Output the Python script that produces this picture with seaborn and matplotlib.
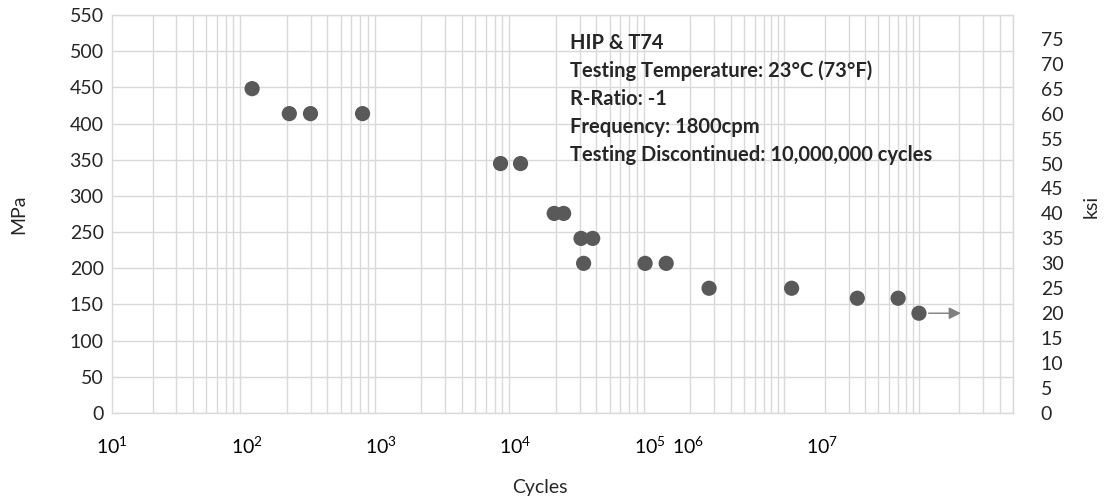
import numpy as np
import pandas as pd
import matplotlib
matplotlib.use('Agg')
import matplotlib.pyplot as plt
import seaborn as sns
from matplotlib.ticker import LogLocator, NullFormatter, MultipleLocator

# fatigue data (cycles, MPa)
cycles = [110, 208, 299, 729, 7740, 10900, 19400, 22800, 30700, 37500,
          32100, 92000, 132000, 275000, 1.13e6, 3.48e6, 7.0e6, 1.0e7]
stress_mpa = [448.2, 413.7, 413.7, 413.7, 344.7, 344.7, 275.8, 275.8, 241.3, 241.3,
              206.8, 206.8, 206.8, 172.4, 172.4, 158.6, 158.6, 137.9]

# runout (test discontinued) arrow
runout_start = [1.18e7]
runout_end = [2.05e7]
runout_stress = [137.9]

# x tick labels as placed on the original chart
xtick_pos = [1e1, 1e2, 1e3, 1e4, 1e5, 1.93e5, 1.89e6]
xtick_labels = [r'$\mathregular{10^{1}}$', r'$\mathregular{10^{2}}$', r'$\mathregular{10^{3}}$',
                r'$\mathregular{10^{4}}$', r'$\mathregular{10^{5}}$', r'$\mathregular{10^{6}}$',
                r'$\mathregular{10^{7}}$']

notes = ['HIP & T74',
         'Testing Temperature: 23°C (73°F)',
         'R-Ratio: -1',
         'Frequency: 1800cpm',
         'Testing Discontinued: 10,000,000 cycles']

MPA_PER_KSI = 6.894757

sns.set_theme(style='white')
plt.rcParams['font.family'] = ['Lato', 'DejaVu Sans']
plt.rcParams['mathtext.fontset'] = 'custom'
plt.rcParams['mathtext.rm'] = 'Lato'

df = pd.DataFrame({'cycles': cycles, 'MPa': stress_mpa})

fig = plt.figure(figsize=(11.05, 4.96), dpi=100)
ax = fig.add_axes([0.1014, 0.1673, 0.8153, 0.8025])

grid_color = '#d9d9d9'
fs = 14

sns.scatterplot(data=df, x='cycles', y='MPa', ax=ax, color='#595959', s=120,
                edgecolor='none', zorder=3)

ax.set_xscale('log')
ax.set_xlim(1e1, 5e7)
ax.set_ylim(0, 550)
ax.yaxis.set_major_locator(MultipleLocator(50))

# grid: every 1..9 per decade
ax.xaxis.set_minor_locator(LogLocator(base=10, subs=np.arange(1, 10), numticks=100))
ax.xaxis.set_minor_formatter(NullFormatter())
ax.set_xticks(xtick_pos)
ax.set_xticklabels(xtick_labels)
ax.grid(False)
ax.grid(which='minor', axis='x', color=grid_color, lw=1)
ax.grid(which='major', axis='y', color=grid_color, lw=1)
ax.set_axisbelow(True)
ax.tick_params(axis='x', which='both', length=0, pad=16, labelsize=fs, colors='#000000')
ax.tick_params(axis='y', length=0, pad=6, labelsize=fs)
for sp in ax.spines.values():
    sp.set_color(grid_color)
    sp.set_linewidth(1)

ax.set_xlabel('Cycles', fontsize=fs)
ax.xaxis.set_label_coords(0.475, -0.165)
ax.set_ylabel('MPa', fontsize=fs)
ax.yaxis.set_label_coords(-0.094, 0.5)

# runout arrow
for x0, x1, y in zip(runout_start, runout_end, runout_stress):
    ax.annotate('', xy=(x1, y), xytext=(x0, y),
                arrowprops=dict(arrowstyle='-|>', color='#7f7f7f', lw=1,
                                mutation_scale=18, shrinkA=0, shrinkB=0))

# secondary ksi axis
ax2 = ax.twinx()
ax2.set_ylim(0, 550 / MPA_PER_KSI)
ax2.yaxis.set_major_locator(MultipleLocator(5))
ax2.set_ylim(0, 550 / MPA_PER_KSI)
ax2.tick_params(axis='y', length=0, pad=20, labelsize=fs)
ax2.grid(False)
for sp in ax2.spines.values():
    sp.set_visible(False)
ax2.set_ylabel('ksi', fontsize=fs)
ax2.yaxis.set_label_coords(1.0777, 0.52)

# annotation block
for i, line in enumerate(notes):
    fig.text(570 / 1105, 1 - (43 + 28 * i) / 496, line, fontsize=14.5,
             fontweight='bold', va='center', ha='left')

fig.savefig('out.png', dpi=100)
